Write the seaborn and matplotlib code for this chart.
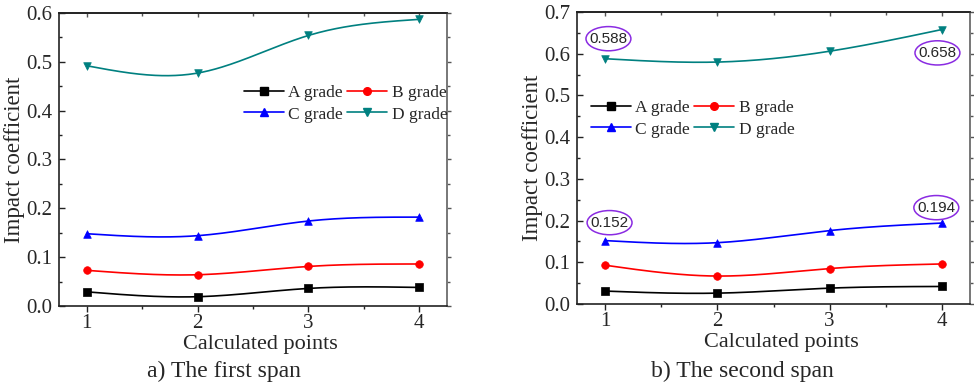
import numpy as np
import pandas as pd
import matplotlib
matplotlib.use("Agg")
import matplotlib.pyplot as plt
import seaborn as sns
from matplotlib.lines import Line2D
from matplotlib.patches import Ellipse
from matplotlib.ticker import MultipleLocator, FormatStrFormatter

# ---- data ----
points = [1, 2, 3, 4]
grades = ["A grade", "B grade", "C grade", "D grade"]
span1_A = [0.029, 0.019, 0.036, 0.038]
span1_B = [0.073, 0.064, 0.081, 0.086]
span1_C = [0.148, 0.144, 0.174, 0.182]
span1_D = [0.492, 0.477, 0.554, 0.587]
span2_A = [0.031, 0.026, 0.038, 0.042]
span2_B = [0.093, 0.067, 0.085, 0.096]
span2_C = [0.152, 0.147, 0.176, 0.194]
span2_D = [0.588, 0.580, 0.606, 0.658]
annot_labels = ["0.588", "0.658", "0.152", "0.194"]
annot_pos = [(1.03, 0.636), (3.96, 0.602), (1.04, 0.195), (3.95, 0.231)]

colors = ["#000000", "#ff0000", "#0000ff", "#008080"]
markers = ["s", "o", "^", "v"]

sns.set_theme(style="ticks")
plt.rcParams["font.family"] = ["Liberation Serif", "DejaVu Serif"]
plt.rcParams["mathtext.fontset"] = "stix"


def natural_spline(x, y, n=200):
    x = np.asarray(x, float)
    y = np.asarray(y, float)
    k = len(x)
    h = np.diff(x)
    A = np.zeros((k, k))
    r = np.zeros(k)
    A[0, 0] = 1
    A[-1, -1] = 1
    for i in range(1, k - 1):
        A[i, i - 1] = h[i - 1]
        A[i, i] = 2 * (h[i - 1] + h[i])
        A[i, i + 1] = h[i]
        r[i] = 6 * ((y[i + 1] - y[i]) / h[i] - (y[i] - y[i - 1]) / h[i - 1])
    M = np.linalg.solve(A, r)
    xs = np.linspace(x[0], x[-1], n)
    ys = np.empty_like(xs)
    for j, xv in enumerate(xs):
        i = min(np.searchsorted(x, xv, side="right") - 1, k - 2)
        t1 = x[i + 1] - xv
        t0 = xv - x[i]
        ys[j] = (M[i] * t1 ** 3 + M[i + 1] * t0 ** 3) / (6 * h[i]) \
            + (y[i] / h[i] - M[i] * h[i] / 6) * t1 \
            + (y[i + 1] / h[i] - M[i + 1] * h[i] / 6) * t0
    return xs, ys


fig = plt.figure(figsize=(9.74, 3.86), dpi=100)
W, H = 974, 386


def px_axes(x0, y0, x1, y1):
    return fig.add_axes([x0 / W, 1 - y1 / H, (x1 - x0) / W, (y1 - y0) / H])


ax1 = px_axes(59, 13, 447, 306)
ax2 = px_axes(577, 12, 970, 304)

spans = [
    (ax1, [span1_A, span1_B, span1_C, span1_D], 0.6, "a) The first span", 224),
    (ax2, [span2_A, span2_B, span2_C, span2_D], 0.7, "b) The second span", 742),
]

for ax, series, ymax, caption, cap_x in spans:
    for vals, c, m, g in zip(series, colors, markers, grades):
        xs, ys = natural_spline(points, vals)
        sns.lineplot(x=xs, y=ys, ax=ax, color=c, lw=1.2, legend=False)
        sns.scatterplot(x=points, y=vals, ax=ax, color=c, marker=m, s=30,
                        edgecolor=c, linewidth=0.5, legend=False, zorder=3)
    ax.set_xlim(0.75, 4.25)
    ax.set_ylim(0, ymax)
    ax.xaxis.set_major_locator(MultipleLocator(1))
    ax.xaxis.set_minor_locator(MultipleLocator(0.5))
    ax.yaxis.set_major_locator(MultipleLocator(0.1))
    ax.yaxis.set_minor_locator(MultipleLocator(0.05))
    ax.yaxis.set_major_formatter(FormatStrFormatter("%.1f"))
    ax.tick_params(axis="y", which="both", direction="in", left=True, right=False,
                   labelsize=15, pad=5)
    ax.tick_params(axis="x", which="both", direction="out", bottom=True, top=False,
                   labelsize=15, pad=2)
    ax.tick_params(which="major", length=4, width=1, color="#222222")
    ax.tick_params(which="minor", length=2.5, width=1, color="#222222")
    # mirrored ticks on right (outward) and top (inward)
    sec_y = ax.secondary_yaxis("right")
    sec_y.yaxis.set_major_locator(MultipleLocator(0.1))
    sec_y.yaxis.set_minor_locator(MultipleLocator(0.05))
    sec_y.tick_params(which="both", direction="out", labelright=False, color="#555555", width=1)
    sec_y.tick_params(which="major", length=3)
    sec_y.tick_params(which="minor", length=2)
    sec_y.spines["right"].set_color("#777777")
    sec_y.spines["right"].set_linewidth(1.2)
    sec_x = ax.secondary_xaxis("top")
    sec_x.xaxis.set_major_locator(MultipleLocator(1))
    sec_x.xaxis.set_minor_locator(MultipleLocator(0.5))
    sec_x.tick_params(which="both", direction="in", labeltop=False, color="#555555", width=1)
    sec_x.tick_params(which="major", length=3)
    sec_x.tick_params(which="minor", length=2)
    sec_x.spines["top"].set_linewidth(1.2)
    sec_x.spines["top"].set_color("#222222")
    for s in ax.spines.values():
        s.set_linewidth(1.2)
        s.set_color("#222222")
    ax.spines["right"].set_color("#777777")
    ax.set_xlabel("Calculated points", fontsize=16, labelpad=1)
    ax.xaxis.set_label_coords(0.52, -0.098)
    ax.set_ylabel("Impact coefficient", fontsize=16.5, labelpad=1)
    fig.text(cap_x / W, 1 - 361 / H, caption, ha="center", va="top", fontsize=17)

    order = [0, 2, 1, 3]
    handles = [Line2D([0], [0], color=colors[i], marker=markers[i],
                      markersize=5.5, lw=1.2) for i in order]
    labels = [grades[i] for i in order]
    if ax is ax1:
        anchor = (244 / W, 1 - 85 / H)
    else:
        anchor = (591 / W, 1 - 100 / H)
    ax.legend(handles, labels, ncol=2, frameon=False, loc="upper left",
              bbox_to_anchor=anchor, bbox_transform=fig.transFigure,
              fontsize=12.5, handlelength=2.3, handletextpad=0.25,
              columnspacing=0.25, labelspacing=0.3, borderpad=0,
              borderaxespad=0)

for lab, (x, y) in zip(annot_labels, annot_pos):
    ax2.add_patch(Ellipse((x, y), width=0.40, height=0.058, fc="white",
                          ec="#8a2be2", lw=1.1, zorder=4))
    ax2.text(x, y, lab, ha="center", va="center", fontsize=11, zorder=5,
             family=["Liberation Sans", "DejaVu Sans"])

fig.savefig("out.png", dpi=100)
